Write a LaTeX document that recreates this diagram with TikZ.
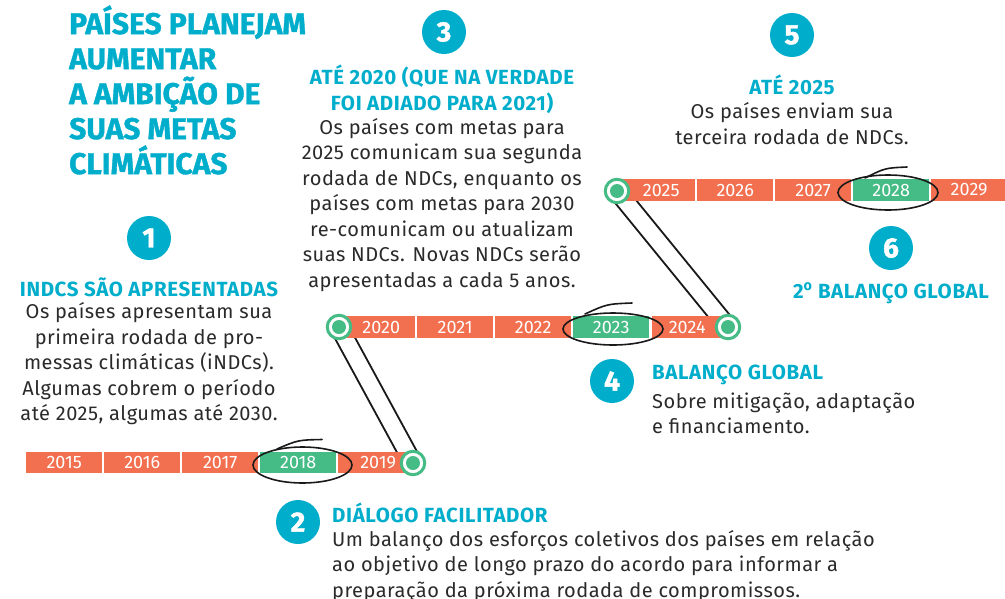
\documentclass[tikz,border=0pt]{standalone}
\usepackage{fontspec}
\setmainfont{Fira Sans}
\usetikzlibrary{calc,backgrounds}
\definecolor{cy}{HTML}{00ADCB}
\definecolor{orng}{HTML}{F2704F}
\definecolor{grn}{HTML}{45BB85}
\definecolor{ink}{HTML}{2A2A2A}
\tikzset{
  yearbox/.style={fill=orng, minimum width=76pt, minimum height=21.5pt, inner sep=0pt,
    text=white, font=\fontsize{18}{18}\selectfont, anchor=west},
  greenbox/.style={yearbox, fill=grn},
  dotnode/.style={circle, draw=grn, line width=3pt, fill=white, minimum size=23.5pt, inner sep=0pt,
    path picture={\fill[grn] (path picture bounding box.center) circle (7pt);}},
  badge/.style={circle, fill=cy, minimum size=44pt, inner sep=0pt, text=white,
    font=\bfseries\fontsize{28}{28}\selectfont\addfontfeature{FakeBold=1.5}},
  head/.style={text=cy, font=\bfseries\fontsize{20.5}{25.5}\selectfont\addfontfeature{LetterSpace=3}, inner sep=0pt},
  body/.style={text=ink, font=\fontsize{20}{25.5}\selectfont\addfontfeature{LetterSpace=2.5}, inner sep=0pt},
  titletext/.style={text=cy, font=\bfseries\fontsize{30}{35}\selectfont\addfontfeature{FakeBold=1.2}, inner sep=0pt, align=left, anchor=west},
  conn/.style={draw=black!90, line width=1.8pt},
  scribble/.style={draw=black!90, line width=1.6pt, line cap=round},
}
\begin{document}
\begin{tikzpicture}[x=1pt,y=-1pt]
\useasboundingbox (0,0) rectangle (1005,598);

% title
\node[titletext] (title) at (69,90) {PAÍSES PLANEJAM\\AUMENTAR\\A AMBIÇÃO DE\\SUAS METAS\\CLIMÁTICAS};

% row 1
\node[yearbox] (y2015) at (26,462.5) {2015};
\node[yearbox] (y2016) at (104,462.5) {2016};
\node[yearbox] (y2017) at (182,462.5) {2017};
\node[greenbox] (y2018) at (260,462.5) {2018};
\node[yearbox] (y2019) at (338,462.5) {2019\hspace*{-4pt}};
\node[dotnode] (c1) at (413,463) {};

% row 2
\node[yearbox] (y2020) at (339,327) {\hspace*{8pt}2020};
\node[yearbox] (y2021) at (417,327) {2021};
\node[yearbox] (y2022) at (495,327) {2022};
\node[greenbox] (y2023) at (573,327) {2023};
\node[yearbox] (y2024) at (652,327) {2024\hspace*{6pt}};
\node[dotnode] (c2) at (339,327) {};
\node[dotnode] (c3) at (728,327) {};

% row 3
\node[yearbox] (y2025) at (619,190) {\hspace*{8pt}2025};
\node[yearbox] (y2026) at (697,190) {2026};
\node[yearbox] (y2027) at (775,190) {2027};
\node[greenbox] (y2028) at (853,190) {2028};
\node[yearbox] (y2029) at (931,190) {2029};
\node[dotnode] (c4) at (617,191) {};

% connectors
\begin{pgfonlayer}{background}
\draw[conn] ($(c1)!9pt!90:(c2)$) -- ($(c2)!9pt!-90:(c1)$);
\draw[conn] ($(c1)!9pt!-90:(c2)$) -- ($(c2)!9pt!90:(c1)$);
\draw[conn] ($(c3)!9pt!90:(c4)$) -- ($(c4)!9pt!-90:(c3)$);
\draw[conn] ($(c3)!9pt!-90:(c4)$) -- ($(c4)!9pt!90:(c3)$);
\end{pgfonlayer}

% scribbled ellipses
\draw[scribble] (302.5,465) ellipse [x radius=49.5pt, y radius=18pt];
\draw[scribble] (277,449) .. controls (298,440) .. (322,439.5);
\draw[scribble] (613,329) ellipse [x radius=50pt, y radius=16pt];
\draw[scribble] (585,314) .. controls (607,304) .. (632,303);
\draw[scribble] (888,192.5) ellipse [x radius=50pt, y radius=17.5pt];
\draw[scribble] (865,178) .. controls (885,168) .. (907,167);

% section 1
\node[badge] (b1) at (149,238) {1};
\node[head] (h1) at (149,287) {INDCS SÃO APRESENTADAS};
\node[body, align=center] (t1) at (149,364) {Os países apresentam sua\\primeira rodada de pro-\\messas climáticas (iNDCs).\\Algumas cobrem o período\\até 2025, algumas até 2030.};

% section 3
\node[badge] (b3) at (444,32) {3};
\node[head, align=center] (h3) at (442,89.5) {ATÉ 2020 (QUE NA VERDADE\\FOI ADIADO PARA 2021)};
\node[body, align=center] (t3) at (442,205) {Os países com metas para\\2025 comunicam sua segunda\\rodada de NDCs, enquanto os\\países com metas para 2030\\re-comunicam ou atualizam\\suas NDCs. Novas NDCs serão\\apresentadas a cada 5 anos.};

% section 5
\node[badge] (b5) at (792,35) {5};
\node[head] (h5) at (792,85) {ATÉ 2025};
\node[body, align=center] (t5) at (792,123.5) {Os países enviam sua\\terceira rodada de NDCs.};

% section 6
\node[badge] (b6) at (891,248) {6};
\node[head] (h6) at (891,293) {2\textsuperscript{o} BALANÇO GLOBAL};

% section 4
\node[badge] (b4) at (612,381) {4};
\node[head, anchor=west] (h4) at (652,375) {BALANÇO GLOBAL};
\node[body, align=left, anchor=west] (t4) at (652,413.5) {Sobre mitigação, adaptação\\e financiamento.};

% section 2
\node[badge] (b2) at (298,522) {2};
\node[head, anchor=west] (h2) at (332,513) {DIÁLOGO FACILITADOR};
\node[body, align=left, anchor=west] (t2) at (332,566) {Um balanço dos esforços coletivos dos países em relação\\ao objetivo de longo prazo do acordo para informar a\\preparação da próxima rodada de compromissos.};
\end{tikzpicture}
\end{document}
